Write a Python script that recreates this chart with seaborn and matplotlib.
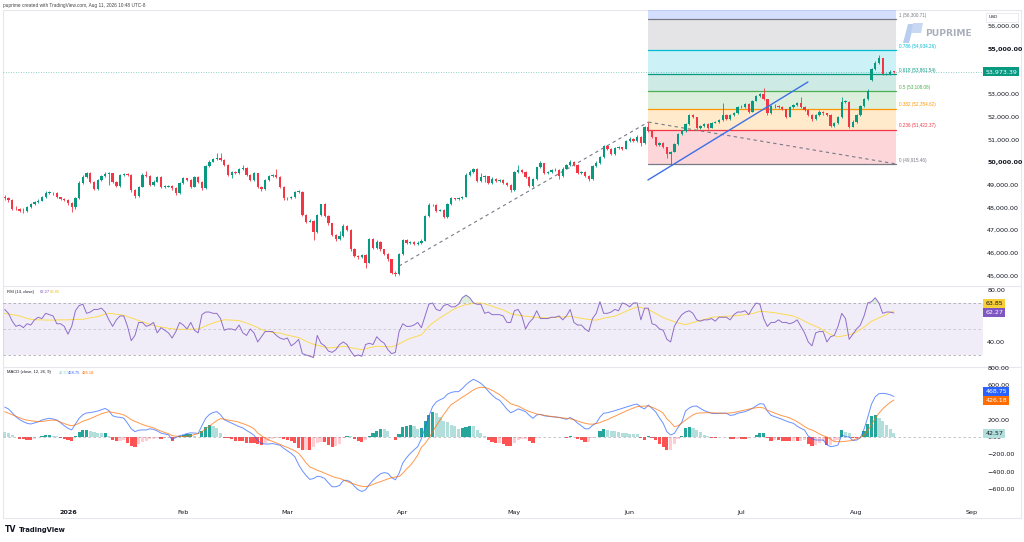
import numpy as np
import pandas as pd
import matplotlib
matplotlib.use("Agg")
import matplotlib.pyplot as plt
import matplotlib.transforms as mtransforms
from matplotlib.lines import Line2D
from matplotlib.patches import Polygon, Rectangle
import seaborn as sns

# ---- data (daily bars, 15 Dec 2025 -> 11 Aug 2026) ----
dates = pd.date_range("2025-12-15", periods=240, freq="D")

opens = [
    48480,
    48400, 48330, 47950, 47920, 47860, 47840, 48030, 48150, 48250, 48300,
    48440, 48650, 48650, 48620, 48440, 48390, 48330, 48180, 48030, 48400,
    49090, 49350, 49500, 49130, 48800, 49210, 49380, 49470, 49500, 49130,
    48940, 49430, 49470, 49430, 48770, 48500, 48910, 49430, 49380, 48990,
    49130, 49350, 48910, 48910, 48940, 48840, 48620, 49060, 49280, 49210,
    48910, 49350, 49130, 48840, 49820, 50020, 50120, 50160, 50090, 49870,
    49430, 49570, 49500, 49680, 49720, 49430, 49210, 49500, 48910, 48800,
    49210, 49380, 49430, 49350, 48910, 48400, 48400, 48440, 48690, 48690,
    47670, 47370, 47420, 46930, 47670, 48150, 47620, 47300, 46790, 46590,
    46740, 47200, 47000, 46150, 45860, 45800, 45900, 45570, 46600, 46200,
    46490, 46150, 45950, 45710, 45130, 45070, 45950, 46560, 46420, 46470,
    46390, 46450, 46540, 47620, 48110, 48100, 47860, 47890, 47590, 48150,
    48400, 48360, 48400, 48470, 49430, 49575, 49680, 49180, 49330, 49380,
    49090, 49270, 49150, 49210, 49090, 49000, 48770, 49560, 49650, 49560,
    49355, 48945, 49240, 49765, 49940, 49530, 49560, 49650, 49650, 49385,
    49710, 49870, 50000, 49870, 49500, 49560, 49385, 49240, 49825, 49970,
    50205, 50705, 50560, 50355, 50605, 50645, 50590, 50940, 51030, 50910,
    51115, 50825, 51530, 51380, 51090, 50750, 50850, 50650, 50355, 50455,
    50795, 51235, 51380, 51675, 52070, 51970, 51515, 51585, 51675, 51515,
    51735, 51765, 51850, 52070, 51880, 52055, 52145, 52410, 52440, 52555,
    52220, 52705, 52910, 53000, 52760, 52145, 52470, 52470, 52440, 52320,
    52000, 52410, 52510, 52585, 52440, 52290, 52070, 51880, 52070, 52220,
    52145, 52070, 51585, 51705, 51970, 52660, 52660, 51560, 51780, 52070,
    52470, 52760, 53610, 54085, 54375, 54565, 53875, 53880, 53980,
]
closes = [
    48400, 48330, 47950, 47920, 47860, 47840, 48030, 48150, 48250, 48300,
    48440, 48650, 48650, 48620, 48440, 48390, 48330, 48180, 48030, 48400,
    49090, 49350, 49500, 49130, 48800, 49210, 49380, 49470, 49500, 49130,
    48940, 49430, 49470, 49430, 48770, 48500, 48910, 49430, 49380, 48990,
    49130, 49350, 48910, 48910, 48940, 48840, 48620, 49060, 49280, 49210,
    48910, 49350, 49130, 48840, 49820, 50020, 50120, 50160, 50090, 49870,
    49430, 49570, 49500, 49680, 49720, 49430, 49210, 49500, 48910, 48800,
    49210, 49380, 49430, 49350, 48910, 48400, 48400, 48440, 48690, 48690,
    47670, 47370, 47420, 46930, 47670, 48150, 47620, 47300, 46790, 46590,
    46740, 47200, 47000, 46150, 45860, 45800, 45900, 45570, 46600, 46200,
    46490, 46150, 45950, 45710, 45130, 45070, 45950, 46560, 46420, 46470,
    46390, 46450, 46540, 47620, 48110, 48100, 47860, 47890, 47590, 48150,
    48400, 48360, 48400, 48470, 49430, 49575, 49680, 49180, 49330, 49380,
    49090, 49270, 49150, 49210, 49090, 49000, 48770, 49560, 49650, 49560,
    49355, 48945, 49240, 49765, 49940, 49530, 49560, 49650, 49650, 49385,
    49710, 49870, 50000, 49870, 49500, 49560, 49385, 49240, 49825, 49970,
    50205, 50705, 50560, 50355, 50605, 50645, 50590, 50940, 51030, 50910,
    51115, 50825, 51530, 51380, 51090, 50750, 50850, 50650, 50355, 50455,
    50795, 51235, 51380, 51675, 52070, 51970, 51515, 51585, 51675, 51515,
    51735, 51765, 51850, 52070, 51880, 52055, 52145, 52410, 52440, 52555,
    52220, 52705, 52910, 53000, 52760, 52145, 52470, 52470, 52440, 52320,
    52000, 52410, 52510, 52585, 52440, 52290, 52070, 51880, 52070, 52220,
    52145, 52070, 51585, 51705, 51970, 52660, 52660, 51560, 51780, 52070,
    52470, 52760, 53145, 54085, 54375, 54565, 53875, 53880, 53980, 53973.39,
]
highs = [
    48560, 48470, 48360, 48050, 47990, 47980, 48080, 48210, 48300, 48380,
    48500, 48720, 48720, 48700, 48660, 48480, 48420, 48360, 48220, 48450,
    49150, 49420, 49580, 49540, 49180, 49260, 49440, 49540, 49560, 49520,
    49170, 49480, 49530, 49500, 49450, 48800, 48960, 49500, 49600, 49420,
    49190, 49400, 49380, 48970, 48990, 49000, 48880, 49100, 49330, 49310,
    49240, 49400, 49380, 49160, 49870, 50080, 50180, 50400, 50380, 50150,
    49900, 49620, 49600, 49730, 49860, 49760, 49470, 49560, 49520, 48950,
    49260, 49430, 49480, 49700, 49380, 48940, 48460, 48490, 48740, 48750,
    48720, 47700, 47480, 47450, 47700, 48160, 48180, 47650, 47330, 46830,
    46980, 47260, 47240, 47030, 46200, 45900, 45960, 45940, 46660, 46640,
    46560, 46530, 46180, 45990, 45740, 45200, 46000, 46610, 46600, 46530,
    46510, 46510, 46600, 47680, 48190, 48160, 48130, 47950, 47920, 48200,
    48460, 48430, 48450, 48520, 49520, 49630, 49740, 49720, 49500, 49430,
    49400, 49320, 49300, 49260, 49240, 49130, 49030, 49610, 49860, 49700,
    49590, 49380, 49290, 49800, 50050, 49970, 49610, 49700, 49720, 49690,
    49760, 49920, 50070, 50030, 49900, 49620, 49600, 49420, 49880, 50030,
    50260, 50760, 50740, 50600, 50660, 50700, 50680, 50990, 51080, 51060,
    51170, 51150, 51580, 51760, 51420, 51120, 50900, 50880, 50680, 50500,
    50840, 51280, 51430, 51720, 52130, 52110, 52000, 51640, 51720, 51710,
    51780, 51820, 51900, 52590, 52100, 52100, 52190, 52460, 52490, 52610,
    52590, 52750, 52960, 53060, 53250, 52790, 52520, 52540, 52510, 52480,
    52350, 52450, 52560, 52640, 52880, 52470, 52320, 52100, 52120, 52270,
    52260, 52180, 52100, 51760, 52020, 52880, 52720, 52690, 51830, 52120,
    52520, 52810, 53200, 54130, 54430, 54710, 54600, 53940, 54040, 54030,
]
lows = [
    48330, 48250, 47880, 47870, 47780, 47760, 47800, 47990, 48100, 48200,
    48270, 48400, 48580, 48560, 48400, 48340, 48280, 48120, 47810, 47950,
    48350, 49040, 49300, 49080, 48760, 48750, 49150, 49340, 48970, 49080,
    48880, 48900, 49390, 49380, 48700, 48420, 48460, 48880, 49330, 48940,
    48950, 49100, 48860, 48850, 48880, 48780, 48560, 48580, 49020, 49160,
    48850, 48880, 49080, 48780, 48810, 49780, 49980, 50080, 50040, 49820,
    49380, 49280, 49450, 49460, 49660, 49380, 49160, 49170, 48860, 48740,
    48770, 49170, 49340, 49300, 48860, 48340, 48340, 48370, 48400, 48640,
    47620, 47300, 47340, 46560, 46880, 47620, 47560, 47240, 46720, 46520,
    46550, 46700, 46950, 46090, 45800, 45740, 45760, 45330, 45530, 46150,
    46160, 46100, 45900, 45660, 45070, 44960, 45030, 45900, 46370, 46380,
    46340, 46350, 46400, 46500, 47580, 48040, 47810, 47820, 47530, 47550,
    48110, 48310, 48330, 48370, 48440, 49390, 49530, 49120, 49130, 49100,
    49040, 49050, 49100, 49110, 49040, 48950, 48700, 48740, 49520, 49510,
    49300, 48880, 48900, 49200, 49720, 49480, 49480, 49510, 49600, 49230,
    49350, 49670, 49840, 49820, 49450, 49460, 49330, 49180, 49200, 49780,
    49930, 50170, 50510, 50300, 50320, 50560, 50540, 50560, 50900, 50860,
    50870, 50700, 50790, 51330, 51040, 50700, 50710, 50600, 50180, 49870,
    50420, 50760, 51200, 51340, 51640, 51920, 51460, 51470, 51550, 51470,
    51490, 51700, 51720, 51810, 51830, 51840, 52010, 52110, 52370, 52400,
    52170, 52190, 52670, 52870, 52710, 52090, 52110, 52400, 52390, 52270,
    51950, 51970, 52370, 52470, 52390, 52240, 52020, 51820, 51840, 52030,
    52090, 52020, 51530, 51550, 51670, 51940, 52600, 51480, 51520, 51740,
    52030, 52430, 52720, 53580, 54040, 54330, 53820, 53820, 53840, 53900,
]

rsi = [
    65, 62, 56, 52, 53, 51, 54, 53, 57, 59,
    58, 62, 61, 60, 54, 54, 52, 46, 52, 64,
    68, 69, 62, 63, 65, 65, 66, 63, 57, 52,
    57, 60, 60, 52, 41, 45, 55, 55, 52, 53,
    55, 47, 51, 49, 47, 43, 48, 55, 53, 50,
    55, 49, 47, 61, 63, 63, 62, 62, 58, 49,
    50, 50, 49, 53, 47, 45, 50, 47, 40, 44,
    48, 48, 48, 45, 43, 42, 43, 37, 39, 42,
    31, 30, 29, 28, 45, 39, 37, 33, 32, 34,
    38, 40, 38, 33, 29, 30, 29, 38, 39, 38,
    44, 41, 39, 34, 31, 32, 48, 54, 52, 52,
    53, 55, 51, 60, 69, 70, 65, 64, 68, 69,
    67, 67, 69, 74, 76, 74, 70, 69, 69, 62,
    63, 61, 61, 61, 60, 55, 55, 64, 65, 60,
    50, 55, 58, 64, 58, 58, 58, 59, 59, 60,
    57, 60, 65, 55, 53, 53, 50, 48, 58, 62,
    71, 62, 62, 63, 65, 64, 70, 69, 67, 70,
    70, 57, 66, 66, 54, 53, 50, 49, 42, 40,
    52, 57, 61, 63, 64, 62, 57, 56, 57, 57,
    58, 56, 59, 59, 59, 57, 61, 63, 63, 64,
    61, 66, 70, 69, 58, 52, 55, 55, 57, 55,
    55, 54, 55, 57, 52, 47, 40, 37, 47, 48,
    48, 40, 44, 45, 52, 62, 58, 42, 46, 50,
    53, 60, 70, 71, 74, 70, 62, 63, 63, 62.27,
]
rsi_ma = [
    62, 61.5, 61, 60.5, 60, 59, 58, 57.5, 57, 57,
    57, 56.8, 56.8, 56.8, 56.9, 57, 57, 57, 57.2, 57.3,
    57.4, 57.4, 58, 58.5, 59, 59.5, 60.5, 61.3, 62, 61.8,
    61.3, 61, 60.5, 59.5, 58.5, 57.5, 56.5, 55.5, 54.5, 53.5,
    52.7, 52, 51.5, 51, 50.5, 50.2, 49.8, 49.7, 49.7, 49.8,
    49.8, 49.8, 50, 51, 52.3, 53.5, 54.5, 55.5, 56.3, 57,
    57, 56.8, 56.6, 56.4, 55.5, 54.5, 53.5, 52.3, 51, 49.6,
    48.7, 48, 47.3, 47, 46.8, 46, 45.2, 44.6, 44, 43.4,
    42, 40.5, 39.3, 38.2, 37.5, 36.8, 36, 35.5, 35.6, 35.9,
    36.3, 36.7, 36.3, 35.6, 35, 34.5, 34.1, 34.8, 35.5, 36.2,
    36.7, 36.6, 36.4, 36.3, 36.2, 37.2, 38.5, 40, 41.5, 42.8,
    43.7, 44.6, 45.5, 48.5, 52, 54.5, 56.5, 58.5, 60.3, 62,
    64, 65.5, 66.8, 67.8, 68.7, 69.2, 69.6, 69.9, 70, 69.3,
    68.4, 67.5, 66.5, 65.5, 64.6, 63.2, 61.8, 61, 60.6, 60.2,
    59.8, 59.5, 59.2, 59, 58.8, 58.6, 58.5, 58.7, 58.9, 59.1,
    59.2, 59.4, 59.7, 59.3, 58.7, 58.2, 57.7, 57.3, 57, 56.8,
    57.5, 58.3, 58.8, 59.3, 59.8, 61, 62.3, 63.6, 64.8, 65.9,
    66.9, 66.5, 65.8, 64.9, 63.4, 61.9, 60.3, 58.8, 57.6, 56.6,
    55.6, 54.6, 54, 53.3, 54.1, 54.9, 55.7, 56.5, 57.3, 58.1,
    59, 59.2, 59.4, 59.6, 59.8, 59.9, 60.1, 60.3, 60.7, 61,
    61.4, 61.8, 62.7, 63.6, 63.4, 63.1, 62.8, 62.4, 62, 61.5,
    61, 60.5, 59.8, 58.8, 57.5, 55.9, 54.5, 53.2, 52, 50.8,
    49, 47.4, 45.7, 44.8, 43.9, 44.5, 45, 45.7, 46.4, 47.8,
    49.5, 51.5, 53.5, 55.9, 57.2, 58.5, 59.8, 61, 62.5, 63.85,
]

macd = [
    345, 325, 280, 235, 200, 177, 158, 150, 162, 175,
    196, 208, 216, 208, 196, 165, 130, 100, 82, 150,
    216, 258, 278, 282, 290, 300, 315, 330, 305, 245,
    232, 227, 218, 160, 95, 62, 78, 82, 81, 95,
    88, 70, 45, 35, 25, -30, -5, 15, 25, 40,
    48, 45, 42, 130, 215, 260, 283, 293, 258, 200,
    180, 160, 140, 120, 105, 75, 50, 20, -40, -75,
    -81, -81, -76, -85, -95, -131, -160, -190, -230, -320,
    -390, -445, -490, -480, -455, -460, -480, -530, -575, -575,
    -560, -505, -500, -520, -570, -610, -630, -610, -550, -500,
    -460, -425, -412, -420, -470, -495, -420, -300, -240, -190,
    -150, -112, -20, 110, 240, 350, 405, 430, 450, 495,
    515, 524, 524, 560, 605, 640, 667, 645, 620, 580,
    530, 485, 447, 425, 375, 320, 280, 300, 325, 310,
    293, 250, 216, 255, 262, 245, 240, 235, 230, 227,
    215, 204, 225, 200, 160, 130, 95, 95, 135, 160,
    230, 275, 280, 292, 304, 318, 331, 345, 358, 372,
    381, 345, 325, 370, 330, 290, 220, 158, 60, 23,
    42, 110, 170, 300, 335, 355, 358, 330, 305, 290,
    274, 270, 272, 275, 274, 250, 255, 274, 283, 293,
    310, 331, 360, 385, 381, 300, 250, 235, 220, 204,
    185, 170, 158, 125, 100, 80, 10, -20, -35, -35,
    -35, -90, -112, -105, -92, 23, 4, 0, -42, -35,
    -10, 90, 230, 380, 465, 500, 505, 500, 488, 468.75,
]
signal = [
    293, 275, 258, 240, 222, 205, 195, 188, 182, 178,
    180, 186, 192, 196, 190, 172, 155, 140, 130, 140,
    160, 182, 196, 212, 232, 250, 268, 282, 292, 285,
    277, 268, 255, 230, 200, 180, 162, 145, 130, 118,
    106, 85, 68, 52, 38, 15, 10, 7, 5, 8,
    15, 28, 40, 60, 95, 125, 158, 190, 212, 206,
    196, 189, 182, 170, 155, 139, 120, 95, 45, 15,
    -15, -35, -52, -70, -85, -105, -120, -140, -160, -190,
    -240, -300, -345, -365, -385, -400, -418, -435, -455, -470,
    -478, -495, -515, -532, -545, -560, -570, -574, -565, -548,
    -530, -516, -500, -485, -470, -462, -458, -420, -370, -330,
    -275, -210, -120, -75, -15, 60, 130, 196, 260, 320,
    375, 400, 430, 460, 486, 515, 545, 565, 575, 572,
    560, 540, 515, 490, 455, 420, 385, 370, 358, 335,
    312, 295, 280, 266, 258, 250, 243, 238, 232, 226,
    220, 216, 210, 200, 185, 170, 158, 150, 148, 155,
    166, 185, 200, 222, 240, 260, 280, 300, 318, 335,
    351, 355, 357, 358, 345, 325, 304, 275, 210, 170,
    119, 130, 160, 196, 225, 255, 274, 278, 280, 281,
    280, 278, 276, 275, 274, 278, 283, 293, 302, 312,
    322, 331, 338, 343, 335, 310, 293, 275, 260, 245,
    235, 220, 200, 177, 150, 120, 95, 81, 60, 35,
    15, 0, -25, -54, -54, -54, -50, -45, -35, -20,
    -5, 20, 75, 140, 215, 275, 325, 365, 400, 426.18,
]

fib_ratios = ["0", "0.236", "0.382", "0.5", "0.618", "0.786", "1"]
fib_prices = [49915.46, 51422.37, 52354.62, 53108.08, 53861.54, 54934.26, 56300.71]
fib_colors = ["#787b86", "#f23645", "#ff9800", "#4caf50", "#089981", "#00bcd4", "#787b86"]

price_ticks = [56000, 55000, 53000, 52000, 51000, 50000, 49000, 48000, 47000, 46000, 45000]
rsi_ticks = [80, 40]
macd_ticks = [800, 600, 200, 0, -200, -400, -600]
month_labels = ["2026", "Feb", "Mar", "Apr", "May", "Jun", "Jul", "Aug", "Sep"]

last_price = 53973.39

# ---- styling ----
sns.set_theme(style="white")
plt.rcParams["font.family"] = ["DejaVu Sans"]

UP, DOWN = "#089981", "#f23645"
TXT = "#131722"
FRAME = "#e6e8ee"
SMALL = ["Liberation Sans", "DejaVu Sans"]
W, H = 1024, 542


def fx(px):
    return px / W


def fy(py):
    return 1 - py / H


fig = plt.figure(figsize=(W / 100, H / 100), dpi=100)
fig.patch.set_facecolor("white")

ax_p = fig.add_axes([fx(3), fy(284), 980 / W, 274 / H])
ax_r = fig.add_axes([fx(3), fy(366), 980 / W, 81 / H])
ax_m = fig.add_axes([fx(3), fy(503), 980 / W, 136 / H])

x = np.arange(len(closes))
o = np.array(opens, float)
c = np.array(closes, float)
hi = np.array(highs, float)
lo = np.array(lows, float)
XL = (-0.47, 262.97)

for ax in (ax_p, ax_r, ax_m):
    ax.set_xlim(*XL)
    ax.patch.set_visible(False)  # figure is white; lets frame lines sit underneath
    for s in ax.spines.values():
        s.set_visible(False)
    ax.yaxis.tick_right()
    ax.tick_params(axis="y", length=0, pad=3, labelsize=4.6, labelcolor=TXT)
    ax.tick_params(axis="x", length=0)
    ax.grid(False)

# ---- price pane ----
ax_p.set_ylim(44626, 56696)
x0, x1 = 172.9, 239.6
band_top = [*fib_prices[1:], 56696]
band_col = [*fib_colors[1:], "#2962ff"]
band_bot = fib_prices
for b, t, col in zip(band_bot, band_top, band_col):
    ax_p.fill_between([x0, x1], b, t, color=col, alpha=0.2, lw=0, zorder=1)
for r, p, col in zip(fib_ratios, fib_prices, fib_colors):
    ax_p.plot([x0, x1], [p, p], color=col, lw=0.9, zorder=2)
    ax_p.text(240.4, p + 60, f"{r} ({p:,.2f})", color=col, fontsize=3.3,
              family=SMALL, ha="left", va="bottom", zorder=5)

ax_p.plot([106, 173], [45420, 51760], color="#787b86", lw=0.8,
          ls=(0, (3, 3)), zorder=3)
ax_p.plot([173, 239.6], [51760, 49915.46], color="#787b86", lw=0.8,
          ls=(0, (3, 3)), zorder=3)
ax_p.plot([172.9, 215.9], [49207, 53524], color="#3d6fe8", lw=1.0, zorder=4)
ax_p.axhline(last_price, color=UP, lw=0.6, ls=(0, (1, 2)), alpha=0.6, zorder=2)

up = c >= o
cols = np.where(up, UP, DOWN)
ax_p.vlines(x, lo, hi, colors=cols, lw=0.6, zorder=3)
ax_p.bar(x, np.maximum(np.abs(c - o), 14), bottom=np.minimum(o, c),
         width=0.62, color=cols, lw=0, zorder=3)

ax_p.set_yticks(price_ticks)
ax_p.set_yticklabels([f"{v:,.2f}" for v in price_ticks])
for lab, v in zip(ax_p.get_yticklabels(), price_ticks):
    if v in (55000, 50000):
        lab.set_fontweight("bold")
ax_p.set_xticks([])

# ---- RSI pane ----
ax_r.set_ylim(21.5, 83.8)
ax_r.axhspan(30, 70, color="#7e57c2", alpha=0.1, lw=0)
for lvl, a in ((70, 0.6), (50, 0.35), (30, 0.6)):
    ax_r.axhline(lvl, color="#787b86", lw=0.6, ls=(0, (3, 3)), alpha=a)
r = np.array(rsi, float)
ax_r.fill_between(x, 70, r, where=r > 70, interpolate=True, color="#4caf50",
                  alpha=0.2, lw=0)
ax_r.fill_between(x, 30, r, where=r < 30, interpolate=True, color="#f23645",
                  alpha=0.15, lw=0)
sns.lineplot(x=x, y=rsi_ma, ax=ax_r, color="#fdd835", lw=0.7, alpha=0.85)
sns.lineplot(x=x, y=rsi, ax=ax_r, color="#7e57c2", lw=0.7, alpha=0.85)
ax_r.set_yticks(rsi_ticks)
ax_r.set_yticklabels([f"{v:.2f}" for v in rsi_ticks])
ax_r.set_xticks([])
ax_r.set_xlabel("")

# ---- MACD pane ----
ax_m.set_ylim(-763, 809)
m = np.array(macd, float)
s = np.array(signal, float)
hist = m - s
prev = np.r_[hist[0], hist[:-1]]
hcol = np.where(hist >= 0, np.where(hist > prev, "#26a69a", "#b2dfdb"),
                np.where(hist > prev, "#ffcdd2", "#ff5252"))
ax_m.axhline(0, color="#787b86", lw=0.6, ls=(0, (3, 3)), alpha=0.5)
ax_m.bar(x, hist, width=0.85, color=hcol, lw=0)
sns.lineplot(x=x, y=macd, ax=ax_m, color="#2962ff", lw=0.7, alpha=0.7)
sns.lineplot(x=x, y=signal, ax=ax_m, color="#ff6d00", lw=0.7, alpha=0.7)
ax_m.set_yticks(macd_ticks)
ax_m.set_yticklabels([f"{v:.2f}".replace("-", "\u2212") for v in macd_ticks])

month_starts = pd.date_range("2026-01-01", "2026-09-01", freq="MS")
tick_pos = (month_starts - dates[0]).days
ax_m.set_xticks(tick_pos)
ax_m.set_xticklabels(month_labels)
ax_m.tick_params(axis="x", labelsize=4.6, labelcolor=TXT, pad=5)
ax_m.get_xticklabels()[0].set_fontweight("bold")
ax_m.set_xlabel("")


# ---- right-side value boxes ----
def value_box(ax, y, text, fc, tc="white"):
    tr = mtransforms.blended_transform_factory(ax.transAxes, ax.transData)
    ax.text(1.0025, y, text, transform=tr, fontsize=4.5, color=tc, ha="left",
            va="center", zorder=10, clip_on=False,
            bbox=dict(boxstyle="square,pad=0.32", fc=fc, ec="none"))


value_box(ax_p, last_price, "53,973.39", UP)
value_box(ax_r, 69.2, "63.85", "#f7cf3a", TXT)
value_box(ax_r, 62.27, "62.27", "#7e57c2")
value_box(ax_m, 531, "468.75", "#2962ff")
value_box(ax_m, 427, "426.18", "#ff6d00")
value_box(ax_m, 42.57, "42.57", "#b2dfdb", TXT)


# ---- frame and separators (drawn below the axes) ----
def fline(xa, ya, xb, yb, col=FRAME, lw=0.8):
    fig.add_artist(Line2D([fx(xa), fx(xb)], [fy(ya), fy(yb)], color=col,
                          lw=lw, transform=fig.transFigure, zorder=-1))


fline(3, 10, 1021, 10)
fline(3, 518, 1021, 518)
fline(3, 10, 3, 518)
fline(1021, 10, 1021, 518)
fline(3, 285.5, 1021, 285.5)
fline(3, 366.5, 1021, 366.5)

# ---- texts ----
fig.text(fx(3), fy(5), "puprime created with TradingView.com, Aug 11, 2026 10:48 UTC-8",
         fontsize=3.4, family=SMALL, color="#444", ha="left", va="center")

fig.text(fx(7), fy(292), "RSI (14, close)", fontsize=3.0, family=SMALL,
         color=TXT, va="center")
fig.text(fx(40), fy(292), "62.27", fontsize=3.0, family=SMALL,
         color="#7e57c2", va="center")
fig.text(fx(50), fy(292), "63.85", fontsize=3.0, family=SMALL,
         color="#e9c22a", va="center")

fig.text(fx(7), fy(372.5), "MACD (close, 12, 26, 9)", fontsize=3.0,
         family=SMALL, color=TXT, va="center")
fig.text(fx(59), fy(372.5), "42.57", fontsize=3.0, family=SMALL,
         color="#8fd3c9", va="center")
fig.text(fx(68), fy(372.5), "468.75", fontsize=3.0, family=SMALL,
         color="#2962ff", va="center")
fig.text(fx(82), fy(372.5), "426.18", fontsize=3.0, family=SMALL,
         color="#ff6d00", va="center")

# USD box
fig.add_artist(Rectangle((fx(986), fy(22)), fx(32), 9 / H, transform=fig.transFigure,
                         fc="white", ec=FRAME, lw=0.6))
fig.text(fx(989), fy(17.5), "USD", fontsize=3.2, family=SMALL, color=TXT,
         va="center")

# PUPRIME watermark
fig.add_artist(Polygon([(fx(903), fy(43)), (fx(909), fy(43)), (fx(914), fy(24)),
                        (fx(908), fy(24))], closed=True, transform=fig.transFigure,
                       fc="#b9cdee", ec="none"))
fig.add_artist(Polygon([(fx(913), fy(23)), (fx(923), fy(23)), (fx(921), fy(33)),
                        (fx(911), fy(33))], closed=True, transform=fig.transFigure,
                       fc="#c9d8f2", ec="none"))
fig.text(fx(925), fy(34), "PUPRIME", fontsize=6.6, fontweight="bold",
         color="#a9b0bb", va="center")

# TradingView logo
fig.text(fx(5), fy(530), "TV", fontsize=5.6, fontweight="heavy", color=TXT, va="center")
fig.text(fx(19), fy(530), "TradingView", fontsize=4.9, fontweight="bold",
         color=TXT, va="center")

fig.savefig("out.png", dpi=100, facecolor="white")
